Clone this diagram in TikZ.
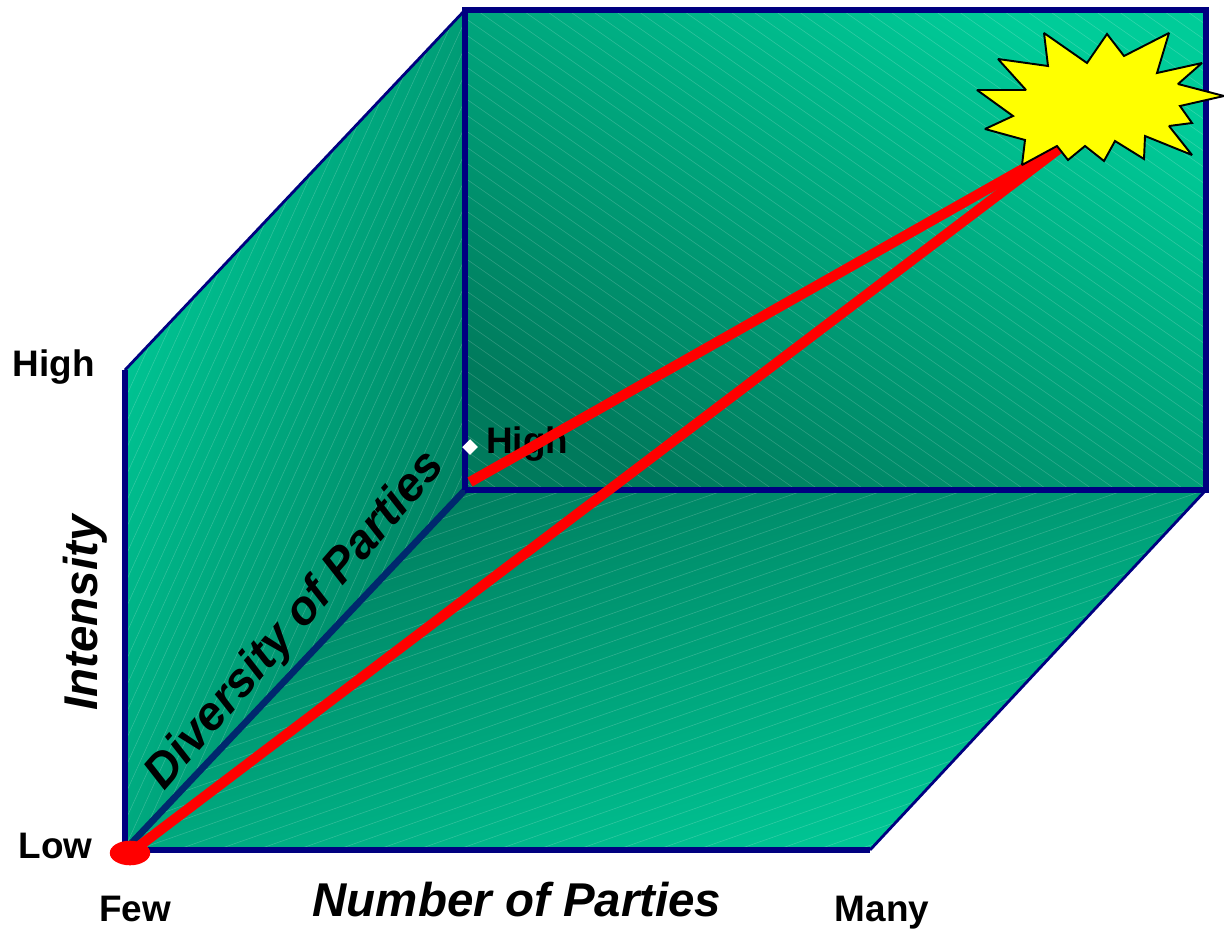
\documentclass[tikz,border=0pt]{standalone}
\usepackage{fontspec}
\setmainfont{Liberation Sans}
\usepackage{tikz}
\usetikzlibrary{positioning, shapes.geometric}

\definecolor{tealLight}{RGB}{0,204,153}
\definecolor{tealDark}{RGB}{0,122,92}
\definecolor{edgeBlue}{RGB}{0,0,128}
\definecolor{edgeDiag}{RGB}{0,40,110}
\definecolor{burstYellow}{RGB}{255,255,0}
\definecolor{lineRed}{RGB}{255,0,0}

\begin{document}
\begin{tikzpicture}[x=0.02cm, y=-0.02cm]
\tikzset{
    every node/.style={align=center, inner sep=0pt},
    edge line/.style={draw=edgeBlue, line width=3pt},
    red line/.style={draw=lineRed, line width=5.8pt},
    hatch line/.style={draw=white, opacity=0.2, line width=0.3pt},
    small label/.style={font=\bfseries\fontsize{21}{21}\selectfont},
    axis label/.style={font=\bfseries\itshape\fontsize{27}{27}\selectfont}
}
\useasboundingbox (0,0) rectangle (1224,930);

% corners of the box
\coordinate (origin) at (125,850);
\coordinate (wallTop) at (125,370);
\coordinate (backTop) at (465,10);
\coordinate (backBottom) at (465,490);
\coordinate (backRight) at (1206,10);
\coordinate (backCorner) at (1206,490);
\coordinate (floorRight) at (870,850);

% faces
\shade[top color=tealLight, bottom color=tealDark, shading angle=-30]
    (backTop) -- (backRight) -- (backCorner) -- (backBottom) -- cycle;
\shade[top color=tealLight, bottom color=tealDark, shading angle=72]
    (wallTop) -- (backTop) -- (backBottom) -- (origin) -- cycle;
\shade[top color=tealDark, middle color=tealDark!55!tealLight, bottom color=tealLight, shading angle=15]
    (origin) -- (backBottom) -- (backCorner) -- (floorRight) -- cycle;

% faint hatching
\begin{scope}
    \clip (backTop) -- (backRight) -- (backCorner) -- (backBottom) -- cycle;
    \foreach \i in {-510,-494,...,490}
        \draw[hatch line] (465,\i) -- +(800,560);
\end{scope}
\begin{scope}
    \clip (wallTop) -- (backTop) -- (backBottom) -- (origin) -- cycle;
    \foreach \i in {-260,-248,...,465}
        \draw[hatch line] (\i,850) -- +(400,-880);
\end{scope}
\begin{scope}
    \clip (origin) -- (backBottom) -- (backCorner) -- (floorRight) -- cycle;
    \foreach \i in {490,504,...,1240}
        \draw[hatch line] (125,\i) -- +(1100,-385);
\end{scope}

% edges
\draw[edgeDiag, line width=3.8pt] (origin) -- (backBottom);
\draw[edge line] (wallTop) -- (origin) -- (floorRight);
\draw[edge line, line width=1.6pt] (wallTop) -- (backTop);
\draw[edge line, line width=1.6pt] (floorRight) -- (backCorner);
\draw[edge line] (backBottom) -- (backTop) -- (backRight) -- (backCorner) -- (backBottom);

% labels
\node[small label, anchor=east] (highIntensity) at (95,367) {High};
\node[small label, anchor=east] (lowIntensity) at (93,846) {Low};
\node[small label] (few) at (135,909) {Few};
\node[small label] (many) at (882,913) {Many};
\node[small label, anchor=west] (highDiversity) at (486,444) {High};
\node[fill=white, diamond, minimum width=9pt, minimum height=9pt] (tick) at (470,447) {};
\node[axis label] (numberAxis) at (517,900) {Number of Parties};
\node[axis label, rotate=90] (intensityAxis) at (85,613) {Intensity};
\node[axis label, rotate=49] (diversityAxis) at (296,621) {Diversity of Parties};

% path to the burst
\node[fill=lineRed, ellipse, minimum width=23pt, minimum height=14pt] (start) at (130,853) {};
\coordinate (burstTip) at (1060,148);
\coordinate (backStart) at (470,482);
\draw[red line] (start.center) -- (burstTip);
\draw[red line] (backStart) -- (burstTip);

\draw[fill=burstYellow, draw=black, line width=1.1pt, line join=miter, miter limit=2]
    (977,90) -- (1026,90) -- (998,59) -- (1048,66) -- (1044,33) -- (1087,63) -- (1107,34)
    -- (1124,56) -- (1169,33) -- (1157,73) -- (1202,63) -- (1178,84) -- (1224,96) -- (1180,106)
    -- (1192,123) -- (1169,126) -- (1192,155) -- (1145,136) -- (1144,159) -- (1115,141)
    -- (1104,161) -- (1085,146) -- (1068,160) -- (1057,146) -- (1022,165) -- (1025,140)
    -- (985,129) -- (1013,116) -- cycle;
\end{tikzpicture}
\end{document}
